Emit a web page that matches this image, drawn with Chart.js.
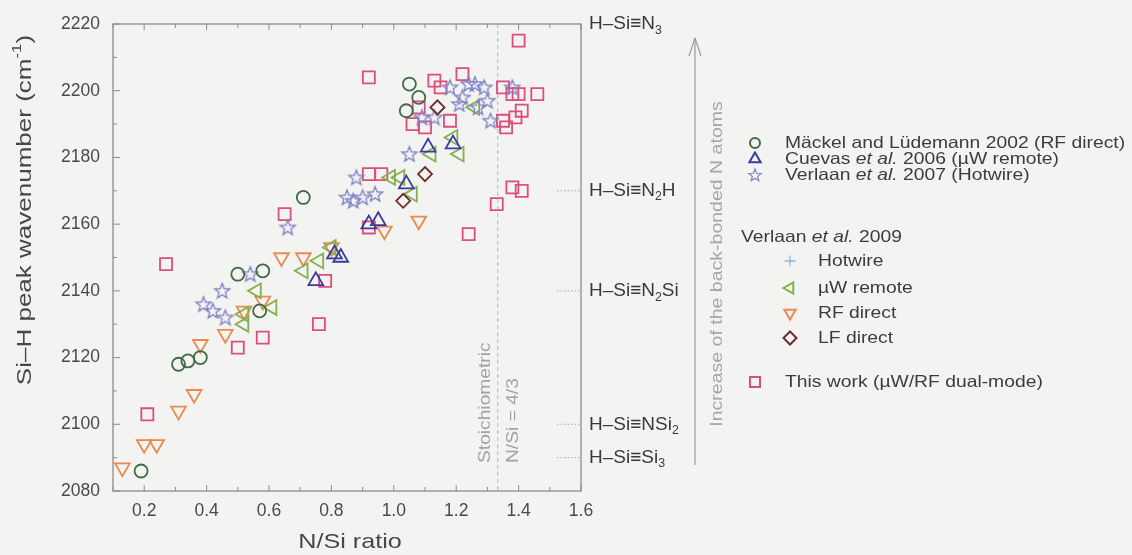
<!DOCTYPE html>
<html>
<head>
<meta charset="utf-8">
<script src="https://cdn.jsdelivr.net/npm/chart.js@4.4.1/dist/chart.umd.min.js"></script>
<style>
  html, body { margin: 0; padding: 0; background: #f3f3f1; }
  canvas { display: block; }
</style>
</head>
<body>
<canvas id="chart" width="1132" height="555"></canvas>
<script>
// values: [N/Si ratio, Si-H peak wavenumber]
const xTickLabels = ['0.2', '0.4', '0.6', '0.8', '1.0', '1.2', '1.4', '1.6'];
const yTickLabels = [2080, 2100, 2120, 2140, 2160, 2180, 2200, 2220];

const mackel2002 = [[0.19, 2086], [0.31, 2118], [0.34, 2119], [0.38, 2120], [0.50, 2145], [0.58, 2146],
  [0.57, 2134], [0.71, 2168], [1.05, 2202], [1.08, 2198], [1.04, 2194]];
const cuevas2006 = [[0.75, 2143], [0.81, 2151], [0.83, 2150], [0.92, 2160], [0.95, 2161], [1.04, 2172],
  [1.11, 2183], [1.19, 2184]];
const verlaan2007 = [[0.39, 2136], [0.42, 2134], [0.46, 2132], [0.45, 2140], [0.54, 2145], [0.66, 2159],
  [0.85, 2168], [0.87, 2167], [0.90, 2168], [0.94, 2169], [0.88, 2174], [1.05, 2181], [1.09, 2192],
  [1.13, 2192], [1.18, 2201], [1.21, 2196], [1.22, 2198], [1.24, 2202], [1.26, 2202], [1.27, 2195],
  [1.29, 2201], [1.30, 2197], [1.31, 2191], [1.38, 2201]];
const hotwire2009 = [];
const uwRemote2009 = [[0.52, 2130], [0.52, 2133], [0.56, 2140], [0.61, 2135], [0.71, 2146], [0.76, 2149],
  [0.80, 2153], [0.99, 2174], [1.02, 2174], [1.06, 2169], [1.12, 2181], [1.19, 2186], [1.21, 2181],
  [1.26, 2195]];
const rfDirect2009 = [[0.13, 2087], [0.20, 2094], [0.24, 2094], [0.31, 2104], [0.36, 2109], [0.38, 2124],
  [0.46, 2127], [0.52, 2134], [0.58, 2137], [0.64, 2150], [0.71, 2150], [0.80, 2153], [0.97, 2158],
  [1.08, 2161]];
const lfDirect2009 = [[1.03, 2167], [1.10, 2175], [1.14, 2195]];
const thisWork = [[0.21, 2103], [0.27, 2148], [0.50, 2123], [0.58, 2126], [0.65, 2163], [0.76, 2130],
  [0.78, 2143], [0.92, 2159], [0.92, 2175], [0.96, 2175], [0.92, 2204], [1.06, 2190], [1.08, 2195],
  [1.10, 2189], [1.13, 2203], [1.15, 2201], [1.18, 2191], [1.22, 2205], [1.24, 2157], [1.33, 2166],
  [1.35, 2201], [1.38, 2199], [1.40, 2199], [1.46, 2199], [1.41, 2194], [1.39, 2192], [1.35, 2191],
  [1.36, 2189], [1.38, 2171], [1.41, 2170], [1.40, 2215]];

const stoichRatio = 4 / 3;
const bondLevels = [2220, 2170, 2140, 2100, 2090];
const bondLabels = [
  [['H–Si≡N', ''], ['3', 'sub']],
  [['H–Si≡N', ''], ['2', 'sub'], ['H', '']],
  [['H–Si≡N', ''], ['2', 'sub'], ['Si', '']],
  [['H–Si≡NSi', ''], ['2', 'sub']],
  [['H–Si≡Si', ''], ['3', 'sub']]
];

const FONT = '"Liberation Sans", Arial, Helvetica, sans-serif';
const C = {
  mackel: '#3f6b45', cuevas: '#3a3b9c', verlaan07: '#7f82c6', hotwire: '#8fb9dd',
  uw: '#86b04e', rf: '#e98b50', lf: '#6e2b2b', work: '#dc4f7c'
};

function pts(arr) { return arr.map(p => ({ x: p[0], y: p[1] })); }

function starPath(g, cx, cy, R, r) {
  g.beginPath();
  for (let i = 0; i < 10; i++) {
    const rad = i % 2 ? r : R;
    const a = -Math.PI / 2 + i * Math.PI / 5;
    const px = cx + rad * Math.cos(a), py = cy + rad * Math.sin(a);
    if (i) g.lineTo(px, py); else g.moveTo(px, py);
  }
  g.closePath();
}

function starImage(color) {
  const c = document.createElement('canvas');
  c.width = 20; c.height = 20;
  const g = c.getContext('2d');
  g.strokeStyle = color; g.lineWidth = 1.3;
  starPath(g, 10, 10.5, 8, 3.4);
  g.stroke();
  return c;
}

// text made of segments: '' normal, 'i' italic, 'sub', 'sup'
function drawRich(ctx, segs, x, y, size, align, stretch) {
  const fontOf = k => (k === 'i' ? 'italic ' : '') + ((k === 'sub' || k === 'sup') ? size * 0.65 : size) + 'px ' + FONT;
  let w = 0;
  segs.forEach(s => { ctx.font = fontOf(s[1]); w += ctx.measureText(s[0]).width; });
  ctx.save();
  ctx.translate(x, y);
  ctx.scale(stretch || 1, 1);
  let cx = align === 'center' ? -w / 2 : 0;
  ctx.textBaseline = 'middle';
  ctx.textAlign = 'left';
  segs.forEach(s => {
    ctx.font = fontOf(s[1]);
    const dy = s[1] === 'sub' ? size * 0.33 : s[1] === 'sup' ? -size * 0.38 : 0;
    ctx.fillText(s[0], cx, dy);
    cx += ctx.measureText(s[0]).width;
  });
  ctx.restore();
}

function line(ctx, x1, y1, x2, y2) {
  ctx.beginPath(); ctx.moveTo(x1, y1); ctx.lineTo(x2, y2); ctx.stroke();
}

function marker(ctx, type, x, y, color) {
  ctx.save();
  ctx.strokeStyle = color; ctx.lineWidth = 2;
  ctx.beginPath();
  const tri = rot => {
    for (let i = 0; i < 3; i++) {
      const a = rot + i * 2 * Math.PI / 3;
      const px = x + 6.5 * Math.sin(a), py = y - 6.5 * Math.cos(a);
      if (i) ctx.lineTo(px, py); else ctx.moveTo(px, py);
    }
    ctx.closePath();
  };
  if (type === 'circle') ctx.arc(x, y, 5, 0, Math.PI * 2);
  else if (type === 'up') tri(0);
  else if (type === 'down') tri(Math.PI);
  else if (type === 'left') tri(-Math.PI / 2);
  else if (type === 'square') ctx.rect(x - 5, y - 5, 10, 10);
  else if (type === 'diamond') { ctx.moveTo(x, y - 6.5); ctx.lineTo(x + 6.5, y); ctx.lineTo(x, y + 6.5); ctx.lineTo(x - 6.5, y); ctx.closePath(); }
  else if (type === 'plus') { ctx.lineWidth = 1.3; ctx.moveTo(x - 5.5, y); ctx.lineTo(x + 5.5, y); ctx.moveTo(x, y - 5.5); ctx.lineTo(x, y + 5.5); }
  else if (type === 'star') { ctx.lineWidth = 1.2; starPath(ctx, x, y + 0.5, 6.5, 2.8); }
  ctx.stroke();
  ctx.restore();
}

const legendRows = [
  { type: 'circle', color: C.mackel, mx: 755, tx: 785, y: 143, text: [['Mäckel and Lüdemann 2002 (RF direct)', '']] },
  { type: 'up', color: C.cuevas, mx: 755, tx: 785, y: 159, text: [['Cuevas ', ''], ['et al.', 'i'], [' 2006 (µW remote)', '']] },
  { type: 'star', color: C.verlaan07, mx: 755, tx: 785, y: 175, text: [['Verlaan ', ''], ['et al.', 'i'], [' 2007 (Hotwire)', '']] },
  { type: null, mx: 0, tx: 741, y: 237, text: [['Verlaan ', ''], ['et al.', 'i'], [' 2009', '']] },
  { type: 'plus', color: C.hotwire, mx: 790, tx: 818, y: 261, text: [['Hotwire', '']] },
  { type: 'left', color: C.uw, mx: 790, tx: 818, y: 288, text: [['µW remote', '']] },
  { type: 'down', color: C.rf, mx: 790, tx: 818, y: 313, text: [['RF direct', '']] },
  { type: 'diamond', color: C.lf, mx: 790, tx: 818, y: 338, text: [['LF direct', '']] },
  { type: 'square', color: C.work, mx: 755, tx: 785, y: 382, text: [['This work (µW/RF dual-mode)', '']] }
];

const decor = {
  id: 'decor',
  beforeDatasetsDraw(chart) {
    const { ctx, chartArea: a, scales: { x, y } } = chart;
    ctx.save();
    // stoichiometric line
    const xs = x.getPixelForValue(stoichRatio);
    ctx.strokeStyle = '#b5b5b5'; ctx.lineWidth = 1; ctx.setLineDash([4, 3]);
    line(ctx, xs, a.top, xs, a.bottom);
    // dotted leaders to the bond labels
    ctx.strokeStyle = '#a8a8a8'; ctx.setLineDash([1.5, 2]);
    bondLevels.slice(1).forEach(v => {
      const py = y.getPixelForValue(v);
      line(ctx, a.right - 24, py, a.right, py);
    });
    ctx.setLineDash([]);
    // rotated note beside the line
    ctx.fillStyle = '#a3a3a3';
    ctx.save();
    ctx.translate(xs - 12, 463); ctx.rotate(-Math.PI / 2); ctx.scale(1.2, 1);
    ctx.font = '16px ' + FONT; ctx.textBaseline = 'middle'; ctx.textAlign = 'left';
    ctx.fillText('Stoichiometric', 0, 0);
    ctx.restore();
    ctx.save();
    ctx.translate(xs + 16, 463); ctx.rotate(-Math.PI / 2); ctx.scale(1.2, 1);
    ctx.font = '16px ' + FONT; ctx.textBaseline = 'middle'; ctx.textAlign = 'left';
    ctx.fillText('N/Si = 4/3', 0, 0);
    ctx.restore();
    // frame and inward ticks
    ctx.strokeStyle = '#8c8c8c'; ctx.lineWidth = 1.3;
    ctx.strokeRect(a.left, a.top, a.right - a.left, a.bottom - a.top);
    ctx.lineWidth = 1;
    x.ticks.forEach(t => {
      const px = x.getPixelForValue(t.value), len = t.label ? 6 : 4;
      line(ctx, px, a.bottom, px, a.bottom - len);
      line(ctx, px, a.top, px, a.top + len);
    });
    y.ticks.forEach(t => {
      const py = y.getPixelForValue(t.value), len = t.label ? 7 : 4;
      line(ctx, a.left, py, a.left + len, py);
    });
    ctx.restore();
  },
  afterDraw(chart) {
    const { ctx, chartArea: a, scales: { y } } = chart;
    ctx.save();
    ctx.fillStyle = '#474747';
    // axis titles
    ctx.save();
    ctx.translate(25, 210); ctx.rotate(-Math.PI / 2);
    drawRich(ctx, [['Si–H peak wavenumber (cm', ''], ['-1', 'sup'], [')', '']], 0, 0, 20, 'center', 1.3);
    ctx.restore();
    drawRich(ctx, [['N/Si ratio', '']], (a.left + a.right) / 2 + 3, 542, 21, 'center', 1.2);
    // bond configuration labels
    ctx.fillStyle = '#3a3a3a';
    bondLevels.forEach((v, i) => drawRich(ctx, bondLabels[i], a.right + 8, y.getPixelForValue(v), 19, 'left', 1));
    // arrow and its note
    ctx.strokeStyle = '#9c9c9c'; ctx.lineWidth = 1.2;
    line(ctx, 695, 465, 695, 38);
    line(ctx, 695, 38, 689, 56);
    line(ctx, 695, 38, 701, 56);
    ctx.fillStyle = '#a6a6a6';
    ctx.save();
    ctx.translate(718, 264); ctx.rotate(-Math.PI / 2);
    drawRich(ctx, [['Increase of the back-bonded N atoms', '']], 0, 0, 16, 'center', 1.22);
    ctx.restore();
    // legend
    ctx.fillStyle = '#3c3c3c';
    legendRows.forEach(r => {
      if (r.type) marker(ctx, r.type, r.mx, r.y, r.color);
      drawRich(ctx, r.text, r.tx, r.y, 16.5, 'left', 1.17);
    });
    ctx.restore();
  }
};

const base = { showLine: false, borderWidth: 1.8, backgroundColor: 'rgba(0,0,0,0)' };

new Chart(document.getElementById('chart'), {
  type: 'scatter',
  data: {
    datasets: [
      { ...base, label: 'Verlaan et al. 2009 LF direct', data: pts(lfDirect2009), borderColor: C.lf, pointStyle: 'rectRot', pointRadius: 7 },
      { ...base, label: 'Mäckel and Lüdemann 2002', data: pts(mackel2002), borderColor: C.mackel, pointStyle: 'circle', pointRadius: 6.5 },
      { ...base, label: 'Cuevas et al. 2006', data: pts(cuevas2006), borderColor: C.cuevas, pointStyle: 'triangle', pointRadius: 8.5 },
      { ...base, label: 'Verlaan et al. 2007', data: pts(verlaan2007), borderColor: C.verlaan07, pointStyle: starImage(C.verlaan07) },
      { ...base, label: 'Verlaan et al. 2009 Hotwire', data: pts(hotwire2009), borderColor: C.hotwire, pointStyle: 'cross', pointRadius: 6 },
      { ...base, label: 'Verlaan et al. 2009 µW remote', data: pts(uwRemote2009), borderColor: C.uw, pointStyle: 'triangle', pointRotation: -90, pointRadius: 8.5 },
      { ...base, label: 'Verlaan et al. 2009 RF direct', data: pts(rfDirect2009), borderColor: C.rf, pointStyle: 'triangle', pointRotation: 180, pointRadius: 8.5 },
      { ...base, label: 'This work', data: pts(thisWork), borderColor: C.work, pointStyle: 'rect', pointRadius: 8.5 }
    ]
  },
  options: {
    responsive: false,
    animation: false,
    events: [],
    layout: { padding: { top: 24, right: 551, left: 0, bottom: 0 } },
    plugins: { legend: { display: false }, tooltip: { enabled: false } },
    scales: {
      x: {
        type: 'linear', min: 0.1, max: 1.6,
        afterFit(s) { s.height = 64; },
        grid: { display: false, drawTicks: false },
        border: { display: false },
        ticks: {
          stepSize: 0.1, autoSkip: false, maxRotation: 0, padding: 10,
          color: '#4a4a4a', font: { family: FONT, size: 17.5 },
          callback(v) { const k = Number(v).toFixed(1); return xTickLabels.includes(k) ? k : ''; }
        }
      },
      y: {
        type: 'linear', min: 2080, max: 2220,
        afterFit(s) { s.width = 113; },
        grid: { display: false, drawTicks: false },
        border: { display: false },
        ticks: {
          stepSize: 10, autoSkip: false, padding: 13,
          color: '#4a4a4a', font: { family: FONT, size: 17.5 },
          callback(v) { return yTickLabels.includes(Math.round(v)) ? String(Math.round(v)) : ''; }
        }
      }
    }
  },
  plugins: [decor]
});
</script>
</body>
</html>
